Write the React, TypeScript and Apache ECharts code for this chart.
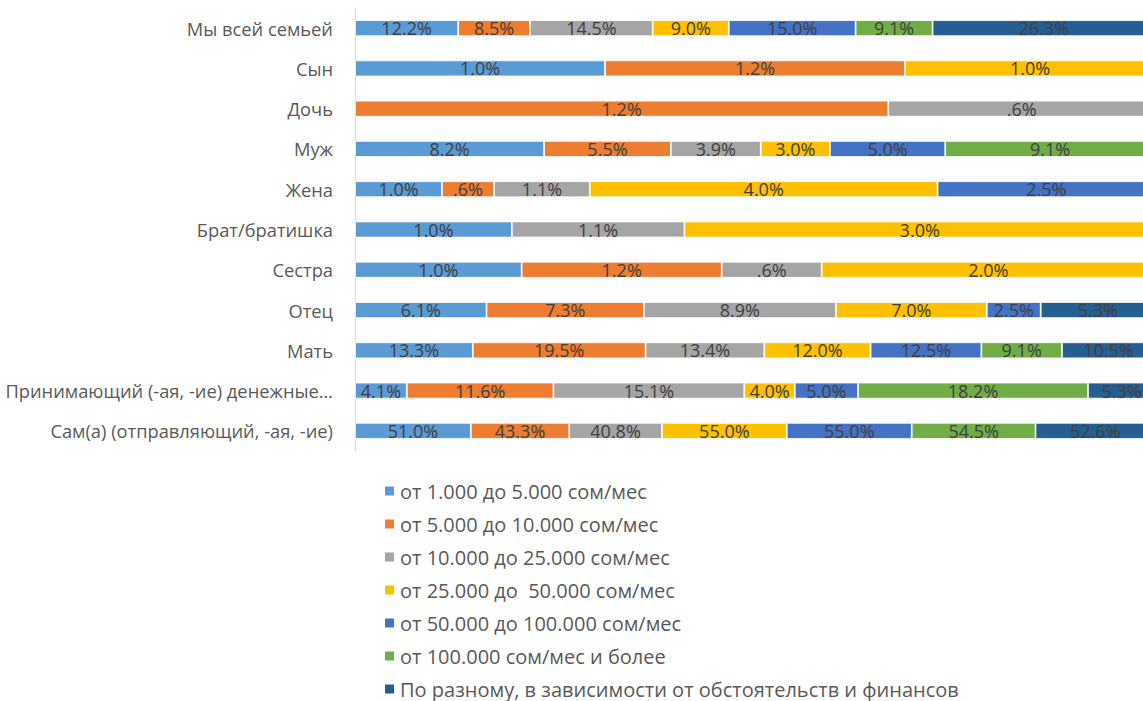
import React, { useEffect, useRef } from "react";
import * as echarts from "echarts";

const categories = [
  "Мы всей семьей",
  "Сын",
  "Дочь",
  "Муж",
  "Жена",
  "Брат/братишка",
  "Сестра",
  "Отец",
  "Мать",
  "Принимающий (-ая, -ие) денежные…",
  "Сам(а) (отправляющий, -ая, -ие)",
];

const seriesNames = [
  "от 1.000 до 5.000 сом/мес",
  "от 5.000 до 10.000 сом/мес",
  "от 10.000 до 25.000 сом/мес",
  "от 25.000 до  50.000 сом/мес",
  "от 50.000 до 100.000 сом/мес",
  "от 100.000 сом/мес и более",
  "По разному, в зависимости от обстоятельств и финансов",
];

const colors = ["#5B9BD5", "#ED7D31", "#A5A5A5", "#FFC000", "#4472C4", "#70AD47", "#255E91"];

const s1 = [12.2, 1.0, null, 8.2, 1.0, 1.0, 1.0, 6.1, 13.3, 4.1, 51.0];
const s2 = [8.5, 1.2, 1.2, 5.5, 0.6, null, 1.2, 7.3, 19.5, 11.6, 43.3];
const s3 = [14.5, null, 0.6, 3.9, 1.1, 1.1, 0.6, 8.9, 13.4, 15.1, 40.8];
const s4 = [9.0, 1.0, null, 3.0, 4.0, 3.0, 2.0, 7.0, 12.0, 4.0, 55.0];
const s5 = [15.0, null, null, 5.0, 2.5, null, null, 2.5, 12.5, 5.0, 55.0];
const s6 = [9.1, null, null, 9.1, null, null, null, null, 9.1, 18.2, 54.5];
const s7 = [26.3, null, null, null, null, null, null, 5.3, 10.5, 5.3, 52.6];

const allSeries: (number | null)[][] = [s1, s2, s3, s4, s5, s6, s7];

function fmt(v: number): string {
  const s = v.toFixed(1);
  return (s.startsWith("0") ? s.slice(1) : s) + "%";
}

const FONT = "'Open Sans', sans-serif";

export default function App() {
  const ref = useRef<HTMLDivElement>(null);
  useEffect(() => {
    if (!ref.current) return;
    const chart = echarts.init(ref.current, undefined, { renderer: "svg" });
    const rowSums = categories.map((_, i) =>
      allSeries.reduce((acc, s) => acc + (s[i] ?? 0), 0)
    );
    const series = allSeries.map((s, k) => ({
      name: seriesNames[k],
      type: "bar",
      stack: "total",
      barWidth: 16,
      itemStyle: { color: colors[k], borderColor: "#ffffff", borderWidth: 0.8 },
      label: {
        show: true,
        position: "inside",
        color: "#404040",
        fontFamily: FONT,
        fontSize: 18,
        formatter: (p: any) => fmt(p.data.raw),
      },
      data: s.map((v, i) =>
        v == null ? { value: null, raw: 0 } : { value: (v / rowSums[i]) * 100, raw: v }
      ),
    }));
    chart.setOption({
      animation: false,
      color: colors,
      grid: {
        left: 355,
        top: 8,
        width: 800,
        height: 443,
        containLabel: false,
        outerBoundsMode: "none",
      },
      xAxis: { type: "value", min: 0, max: 100, show: false },
      yAxis: {
        type: "category",
        data: categories,
        inverse: true,
        axisLine: { show: true, lineStyle: { color: "#D9D9D9", width: 1 } },
        axisTick: { show: false },
        axisLabel: { color: "#595959", fontFamily: FONT, fontSize: 18.3, margin: 22 },
      },
      legend: {
        orient: "vertical",
        left: 383,
        top: 480,
        height: 240,
        padding: 0,
        itemWidth: 11,
        itemHeight: 11,
        itemGap: 11,
        icon: "rect",
        textStyle: { color: "#595959", fontFamily: FONT, fontSize: 20, lineHeight: 22 },
        data: seriesNames,
      },
      series,
    });
    return () => chart.dispose();
  }, []);
  return (
    <div
      ref={ref}
      style={{ position: "fixed", left: 0, top: 0, width: 1143, height: 701, background: "#fff" }}
    />
  );
}
